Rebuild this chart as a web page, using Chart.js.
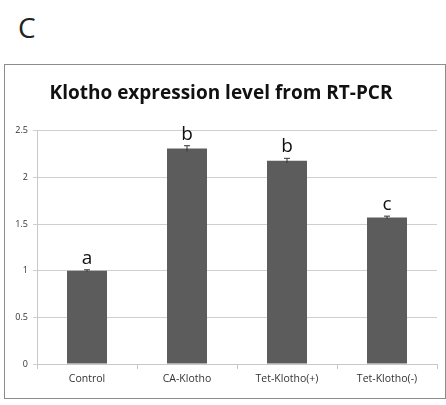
<!DOCTYPE html>
<html>
<head>
<meta charset="utf-8">
<script src="https://cdn.jsdelivr.net/npm/chart.js@4"></script>
<style>
	body { margin: 0; background: #fff; }
	#panel { position: absolute; left: 18px; top: 8px; font: 28px "Open Sans", sans-serif; color: #222; }
	#frame { position: absolute; left: 4px; top: 64px; width: 440px; height: 333px; border: 1px solid #8c8c8c; }
	#chart { position: absolute; left: 0; top: 0; }
</style>
</head>
<body>
<div id="panel">C</div>
<div id="frame"><canvas id="chart" width="440" height="333"></canvas></div>
<script>
var groups = ['Control', 'CA-Klotho', 'Tet-Klotho(+)', 'Tet-Klotho(-)'];
var expression = [1.0, 2.31, 2.18, 1.57];
var errors = [0.01, 0.03, 0.025, 0.015];
var letters = ['a', 'b', 'b', 'c'];
var yTicks = [0, 0.5, 1, 1.5, 2, 2.5];

var annotate = {
	id: 'annotate',
	afterDatasetsDraw: function(chart) {
		var ctx = chart.ctx;
		var x = chart.scales.x, y = chart.scales.y;
		ctx.save();
		for (var i = 0; i < expression.length; i++) {
			var cx = x.getPixelForValue(i);
			var top = y.getPixelForValue(expression[i] + errors[i]);
			var bot = y.getPixelForValue(expression[i] - errors[i]);
			ctx.strokeStyle = '#333';
			ctx.lineWidth = 1;
			ctx.beginPath();
			ctx.moveTo(cx, top); ctx.lineTo(cx, bot);
			ctx.moveTo(cx - 3, top); ctx.lineTo(cx + 3, top);
			ctx.stroke();
			ctx.fillStyle = '#111';
			ctx.font = '19px "Open Sans", sans-serif';
			ctx.textAlign = 'center';
			ctx.textBaseline = 'alphabetic';
			ctx.fillText(letters[i], cx, top - 6);
		}
		ctx.restore();
	}
};

var config = {
	type : 'bar',
	data : {
		labels : groups,
		datasets : [ {
			data : expression,
			backgroundColor : '#5c5c5c',
			categoryPercentage : 1.0,
			barPercentage : 0.4
		} ]
	},
	options : {
		responsive : false,
		animation : false,
		layout : { padding : { left : 0, right : 8, top : 0, bottom : 0 } },
		plugins : {
			legend : { display : false },
			tooltip : { enabled : false },
			title : {
				display : true,
				text : 'Klotho expression level from RT-PCR',
				color : '#111',
				font : { family : '"Open Sans", sans-serif', size : 19, weight : 'bold' },
				padding : { top : 17, bottom : 26 }
			}
		},
		scales : {
			x : {
				grid : { drawOnChartArea : false, color : '#c8c8c8', tickLength : 5 },
				border : { color : '#c8c8c8' },
				ticks : { color : '#333', font : { family : '"Open Sans", sans-serif', size : 10.5 }, padding : 4 },
				afterFit : function(s) { s.height = 34; }
			},
			y : {
				min : 0,
				max : 2.5,
				afterBuildTicks : function(s) { s.ticks = yTicks.map(function(v) { return { value : v }; }); },
				grid : { color : '#cfcfcf', tickLength : 4 },
				border : { color : '#c8c8c8' },
				ticks : {
					color : '#333',
					font : { family : '"Open Sans", sans-serif', size : 9 },
					padding : 5,
					callback : function(v) { return String(v); }
				},
				afterFit : function(s) { s.width = 32; }
			}
		}
	},
	plugins : [ annotate ]
};
var ctx = document.getElementById('chart').getContext('2d');
window.myBar = new Chart(ctx, config);
</script>
</body>
</html>
